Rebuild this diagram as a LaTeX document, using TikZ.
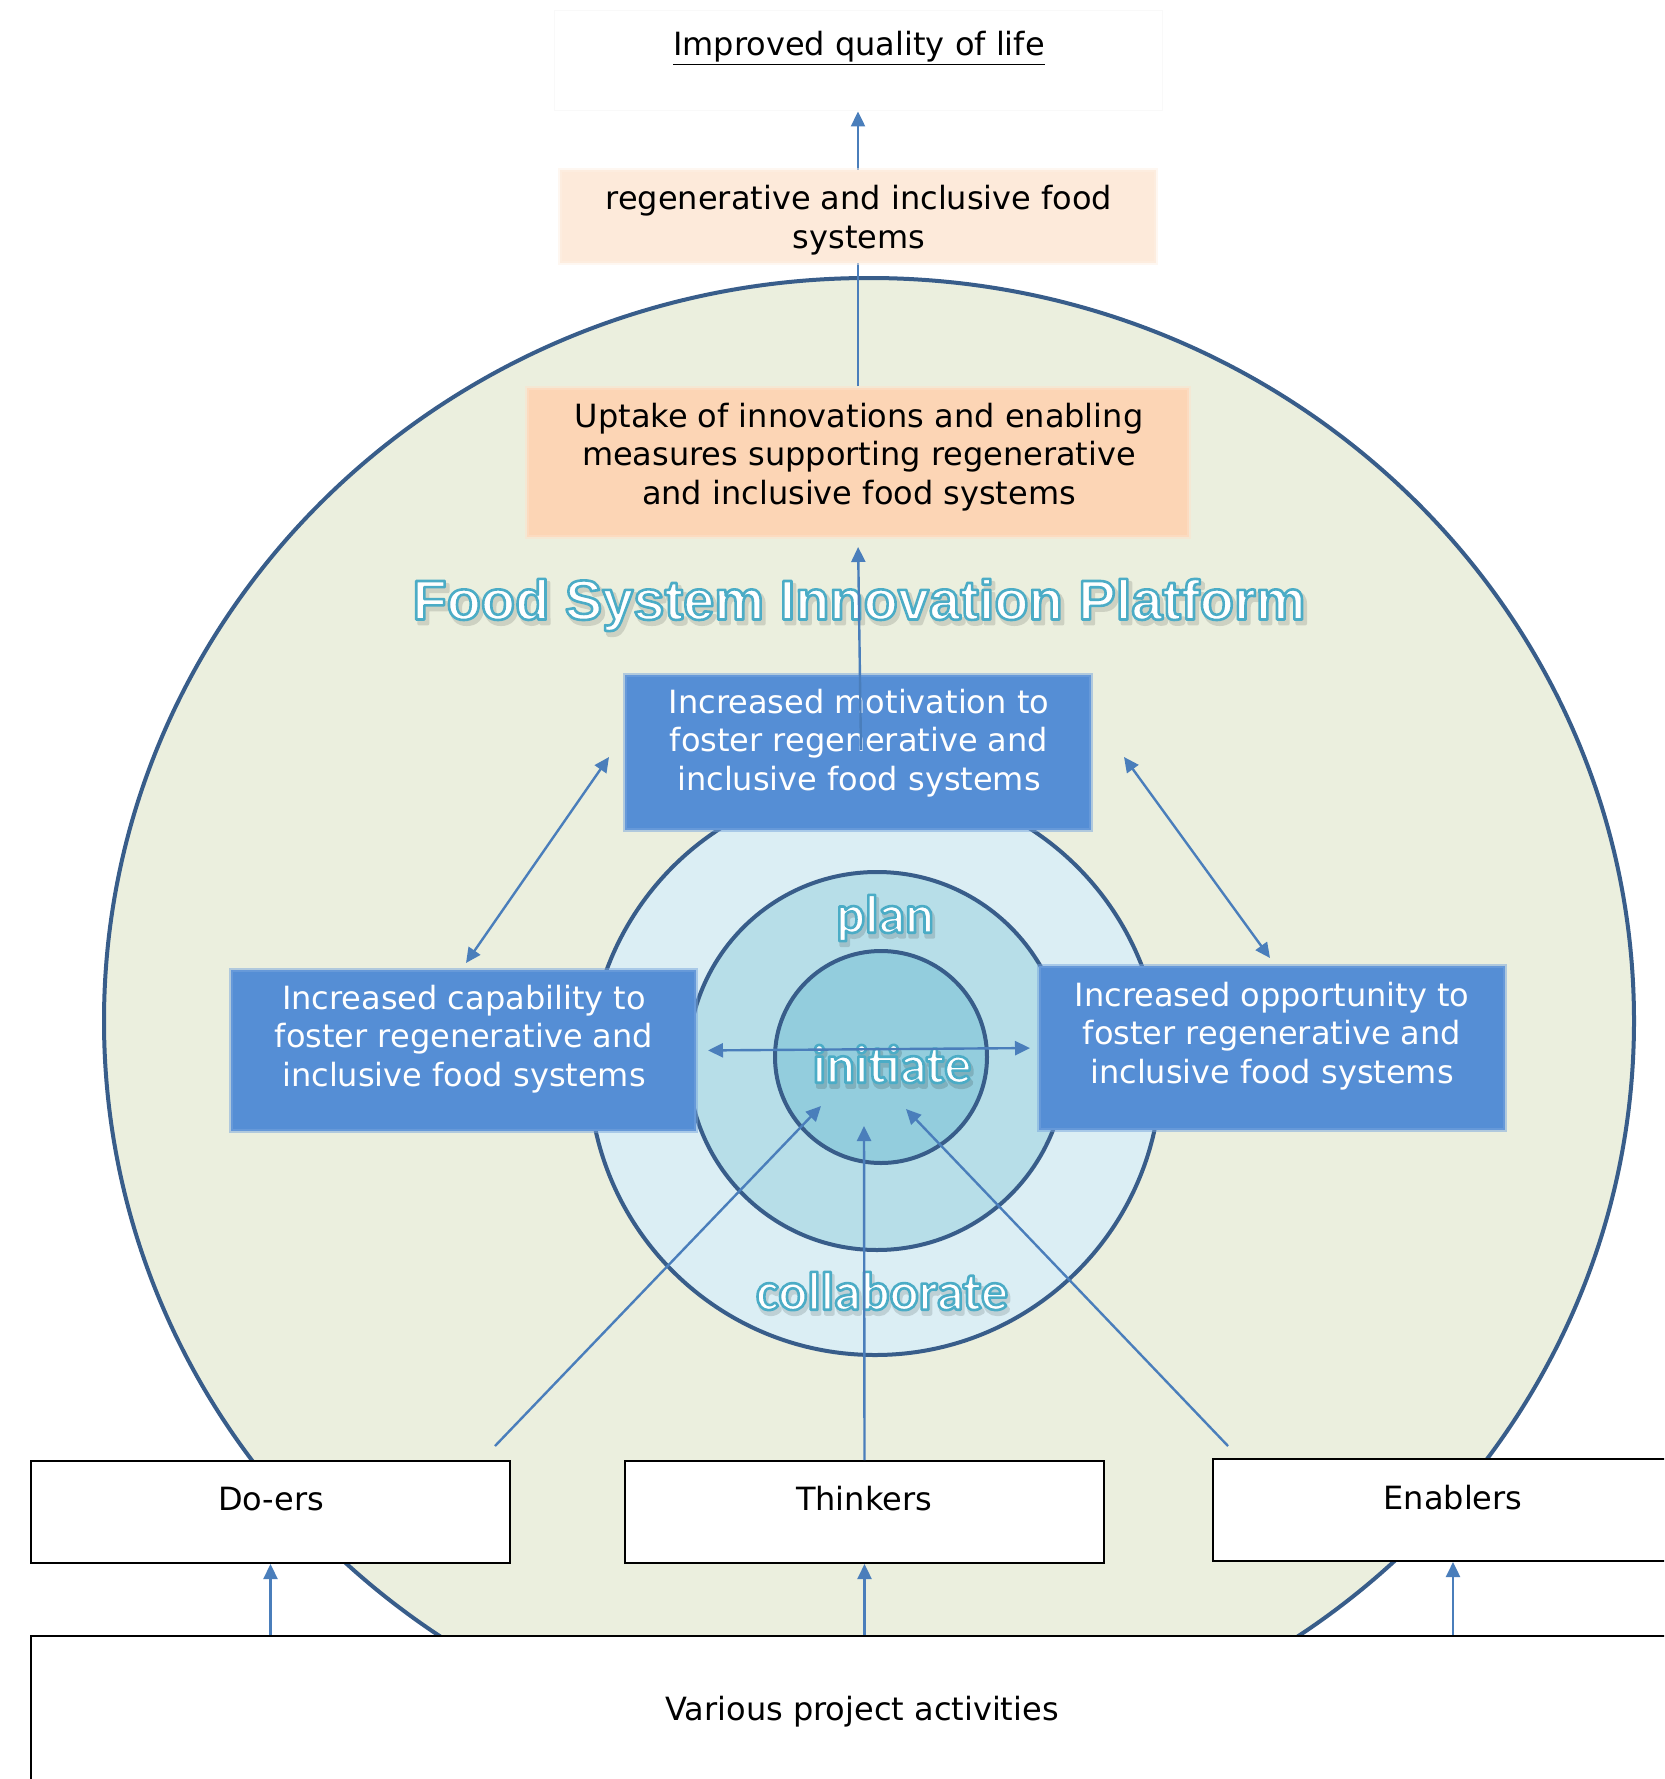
\documentclass[tikz,border=0pt]{standalone}
\usepackage{fontspec}
\setmainfont{DejaVu Sans}
\newfontfamily\titlefont{Liberation Sans}
\newfontfamily\stagefont{Carlito}
\usetikzlibrary{arrows.meta}
\definecolor{linec}{HTML}{4A7EBB}
\definecolor{ringc}{HTML}{385D8A}
\definecolor{bgg}{HTML}{EBEFDE}
\definecolor{ringa}{HTML}{DBEEF4}
\definecolor{ringb}{HTML}{B7DEE8}
\definecolor{ringd}{HTML}{93CDDD}
\definecolor{boxblue}{HTML}{558ED5}
\definecolor{peach}{HTML}{FCD5B5}
\definecolor{lpeach}{HTML}{FDEADA}
\definecolor{fsteal}{HTML}{4BACC6}
\definecolor{shadowa}{HTML}{CDD1C2}
\definecolor{shadowb}{HTML}{9FC0C9}
\definecolor{shadowc}{HTML}{7FB0BD}
\definecolor{shadowd}{HTML}{BED0D5}
\newcommand\fsglow[2]{{\color{white}\special{pdf:literal direct 0.294 0.675 0.776 RG #1 w 1 j 2 Tr}#2\special{pdf:literal direct 0 Tr 1 w}}}
\newcommand\fsshade[3]{{\color{#1}\special{pdf:literal direct #2 w 1 j 2 Tr}#3\special{pdf:literal direct 0 Tr 1 w}}}
\begin{document}
\begin{tikzpicture}[x=1pt,y=-1pt,
  conn/.style={draw=linec, line width=2.4pt, -{Triangle[length=15pt,width=14pt]}},
  dconn/.style={draw=linec, line width=2.4pt, {Triangle[length=15pt,width=14pt]}-{Triangle[length=15pt,width=14pt]}},
  softbox/.style={rectangle, inner sep=0pt, line width=4pt},
  bluebox/.style={softbox, fill=boxblue, draw=boxblue!80!white, draw opacity=.5},
  rolebox/.style={rectangle, inner sep=0pt, fill=white, draw=black, line width=2pt},
  bodytext/.style={font=\fontsize{32}{38.6}\selectfont, align=center, inner sep=0pt},
  whitetext/.style={bodytext, text=white},
  stage/.style={font=\stagefont\bfseries\fontsize{54}{60}\selectfont, inner sep=0pt},
  titlestyle/.style={font=\titlefont\bfseries\fontsize{56}{62}\selectfont, inner sep=0pt},
  ring/.style={draw=ringc, line width=4pt}
]
\useasboundingbox (0,0) rectangle (1664,1779);
\clip (0,0) rectangle (1664,1779);
\fill[white] (0,0) rectangle (1664,1779);

% top box
\node[rectangle, inner sep=0pt, draw=gray!5, line width=1pt, minimum width=608pt, minimum height=100pt] (improved) at (858,61) {};
\node[bodytext] (improvedtxt) at (859,48) {\underline{Improved quality of life}};

% big platform ellipse
\path[fill=bgg, draw=ringc, line width=4pt] (869,1021) ellipse [x radius=765, y radius=743];

% rings
\node[circle, ring, fill=ringa, minimum size=572pt, inner sep=0pt] (ring1) at (875,1069) {};
\node[circle, ring, fill=ringb, minimum size=378pt, inner sep=0pt] (ring2) at (877,1061) {};
\node[circle, ring, fill=ringd, minimum size=212pt, inner sep=0pt] (ring3) at (881,1057) {};

% uptake box
\node[softbox, fill=peach, draw=peach!70!white, draw opacity=.5, minimum width=662pt, minimum height=149pt] (uptake) at (858,462.5) {};
\node[bodytext] (uptaketxt) at (859,457) {Uptake of innovations and enabling\\measures supporting regenerative\\and inclusive food systems};

% uptake -> improved
\draw[conn] (uptake.north) -- (improved.south);

% regenerative box
\node[softbox, fill=lpeach, draw=lpeach!70!white, draw opacity=.5, minimum width=596pt, minimum height=93pt] (regen) at (858,216.5) {};
\node[bodytext] (regentxt) at (859,220) {regenerative and inclusive food\\systems};

% blue boxes
\node[bluebox, minimum width=466pt, minimum height=155pt] (motiv) at (858,752.5) {};
\node[whitetext] (motivtxt) at (859,743) {Increased motivation to\\foster regenerative and\\inclusive food systems};
\node[bluebox, minimum width=465pt, minimum height=161pt] (capab) at (463.5,1050.5) {};
\node[whitetext] (capabtxt) at (464,1039) {Increased capability to\\foster regenerative and\\inclusive food systems};
\node[bluebox, minimum width=466pt, minimum height=164pt] (oppor) at (1272,1048) {};
\node[whitetext] (opportxt) at (1272,1036) {Increased opportunity to\\foster regenerative and\\inclusive food systems};

% titles
\node[titlestyle] (titleshadow) at (862,609) {\fsshade{shadowa}{4}{Food System Innovation Platform}};
\node[titlestyle] (title) at (859,605) {\fsglow{2.6}{Food System Innovation Platform}};

\node[stage] (planshadow) at (887,922) {\fsshade{shadowb}{4}{plan}};
\node[stage] (plan) at (885,918) {\fsglow{2.6}{plan}};
\node[stage] (initshadow) at (894,1068) {\fsshade{shadowc}{4}{initiate}};
\node[stage] (init) at (892,1064) {\fsglow{2.6}{initiate}};
\node[stage] (collshadow) at (884,1295) {\fsshade{shadowd}{4}{collaborate}};
\node[stage] (coll) at (882,1291) {\fsglow{2.6}{collaborate}};

% role boxes
\node[rolebox, minimum width=479pt, minimum height=102pt] (doers) at (270.5,1512) {};
\node[bodytext] (doerstxt) at (271,1499) {Do-ers};
\node[rolebox, minimum width=479pt, minimum height=102pt] (thinkers) at (864.5,1512) {};
\node[bodytext] (thinkerstxt) at (864,1499) {Thinkers};
\node[rolebox, minimum width=480pt, minimum height=102pt] (enablers) at (1453,1510) {};
\node[bodytext] (enablerstxt) at (1453,1498) {Enablers};
\node[rolebox, minimum width=1662pt, minimum height=264pt] (various) at (862,1768) {};
\node[bodytext] (varioustxt) at (862,1712) {Various project activities};

% connectors
\coordinate (mstart) at (861,750);
\draw[conn, shorten >=8pt] (mstart) -- (uptake.south);
\coordinate (mc1) at (609,757);
\coordinate (mc2) at (466,963);
\draw[dconn] (mc1) -- (mc2);
\coordinate (mo1) at (1124,757);
\coordinate (mo2) at (1270,958);
\draw[dconn] (mo1) -- (mo2);
\draw[dconn, shorten <=10pt, shorten >=7pt] (capab.east) -- (oppor.west);

\coordinate (d1) at (495,1446);
\coordinate (d2) at (821,1106);
\draw[conn] (d1) -- (d2);
\coordinate (t2) at (864,1126);
\draw[conn] (thinkers.north) -- (t2);
\coordinate (e1) at (1228,1446);
\coordinate (e2) at (906,1109);
\draw[conn] (e1) -- (e2);

\draw[conn] (various.north -| doers.south) -- (doers.south);
\draw[conn] (various.north -| thinkers.south) -- (thinkers.south);
\draw[conn] (various.north -| enablers.south) -- (enablers.south);
\end{tikzpicture}
\end{document}
